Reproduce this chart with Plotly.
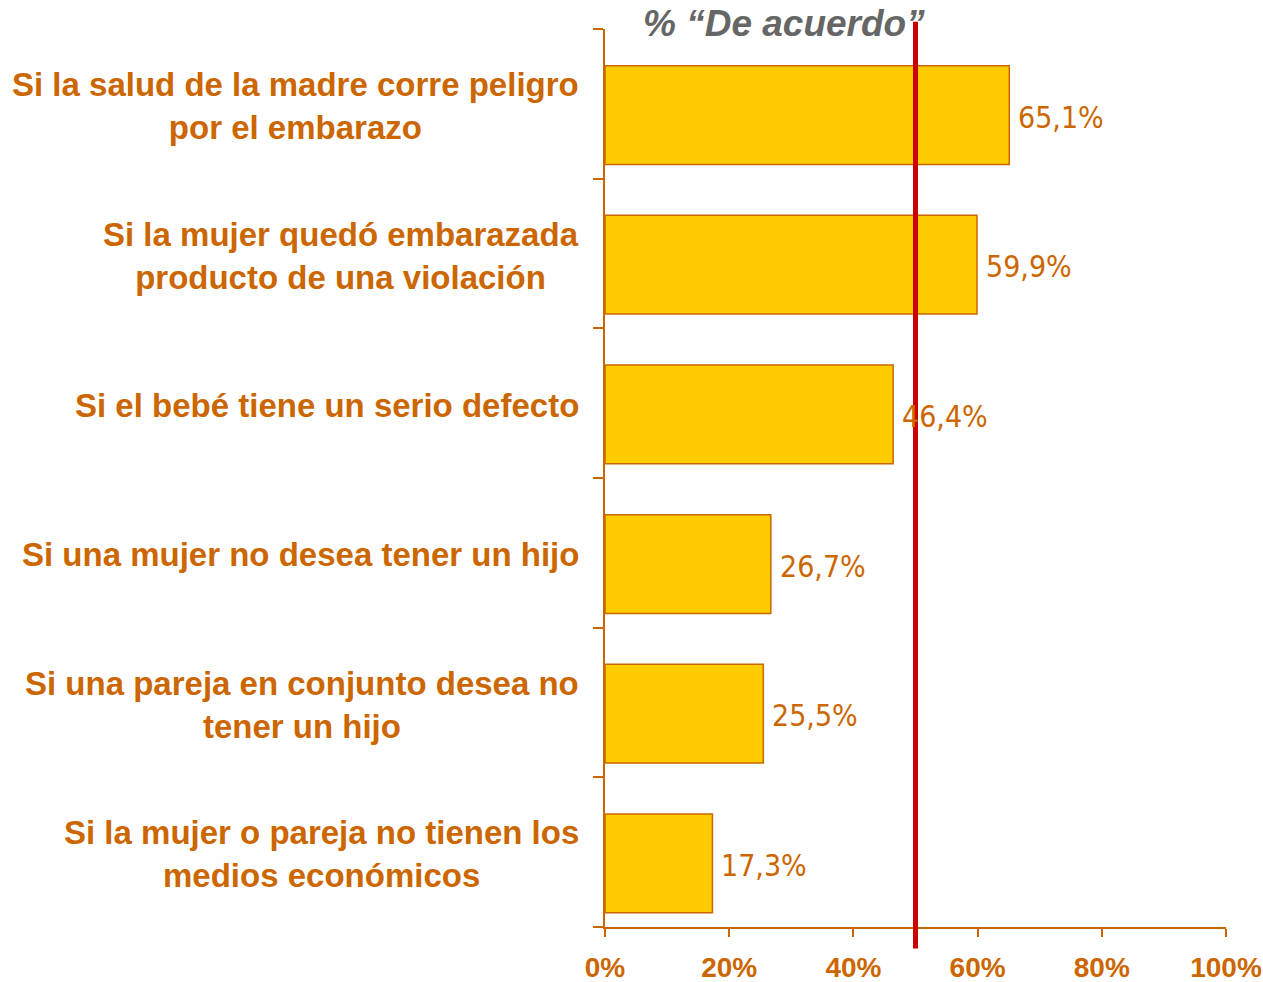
import plotly.graph_objects as go

# Survey results: share answering "De acuerdo" per circumstance
categories = [
    "Si la salud de la madre corre peligro<br>por el embarazo",
    "Si la mujer quedó embarazada<br>producto de una violación",
    "Si el bebé tiene un serio defecto",
    "Si una mujer no desea tener un hijo",
    "Si una pareja en conjunto desea no<br>tener un hijo",
    "Si la mujer o pareja no tienen los<br>medios económicos",
]
values = [65.1, 59.9, 46.4, 26.7, 25.5, 17.3]
value_labels = ["65,1%", "59,9%", "46,4%", "26,7%", "25,5%", "17,3%"]
x_ticks = [0, 20, 40, 60, 80, 100]
x_tick_labels = ["0%", "20%", "40%", "60%", "80%", "100%"]
reference_line = 50
title_text = "% “De acuerdo”"

ORANGE = "#CC6600"
BAR_FILL = "#FFCC00"
RED = "#CC0000"
GRAY = "#666666"
LABEL_FONT = "Arial, Liberation Sans, sans-serif"
VALUE_FONT = "Liberation Sans Narrow, DejaVu Sans Condensed, Arial Narrow, sans-serif"

n = len(categories)
# each category occupies one unit band; bars sit slightly below the band centre
bar_pos = [i + 0.575 for i in range(n)]
band_centre = [i + 0.5 for i in range(n)]

fig = go.Figure()
fig.add_trace(go.Bar(
    x=values,
    y=bar_pos,
    orientation="h",
    width=0.66,
    marker=dict(color=BAR_FILL, line=dict(color=ORANGE, width=1.5)),
    hoverinfo="skip",
))

annotations = []
for i in range(n):
    annotations.append(dict(
        x=0, xref="paper", y=band_centre[i], yref="y",
        text="<b>" + categories[i] + "</b>",
        xanchor="right", yanchor="middle", align="center",
        xshift=-24, yshift=-2, showarrow=False,
        font=dict(family=LABEL_FONT, size=33, color=ORANGE),
    ))
    annotations.append(dict(
        x=values[i], xref="x", y=bar_pos[i], yref="y",
        text=value_labels[i],
        xanchor="left", yanchor="middle", xshift=7, yshift=-2,
        showarrow=False,
        font=dict(family=VALUE_FONT, size=30, color=ORANGE),
    ))

annotations.append(dict(
    x=0.288, xref="paper", y=1.006, yref="paper",
    text="<b><i>" + title_text + "</i></b>",
    xanchor="center", yanchor="middle", showarrow=False,
    font=dict(family=LABEL_FONT, size=37, color=GRAY),
))

fig.add_shape(
    type="line", xref="x", yref="paper",
    x0=reference_line, x1=reference_line, y0=-0.024, y1=1.008,
    line=dict(color=RED, width=5), layer="above",
)

fig.update_layout(
    width=1263, height=982,
    margin=dict(l=605, r=37, t=29, b=55, autoexpand=False),
    plot_bgcolor="white", paper_bgcolor="white",
    showlegend=False,
    annotations=annotations,
    xaxis=dict(
        range=[0, 100], tickvals=x_ticks, ticktext=x_tick_labels,
        showgrid=False, zeroline=False, automargin=False,
        showline=True, linecolor=ORANGE, linewidth=1.5,
        ticks="outside", ticklen=8, tickcolor=ORANGE, tickwidth=1.5,
        ticklabelstandoff=7,
        tickfont=dict(family=LABEL_FONT, size=28, color=ORANGE, weight="bold"),
    ),
    yaxis=dict(
        range=[n, 0], tickvals=list(range(n + 1)), showticklabels=False,
        showgrid=False, zeroline=False, automargin=False,
        showline=True, linecolor=ORANGE, linewidth=1.5,
        ticks="outside", ticklen=10, tickcolor=ORANGE, tickwidth=1.5,
    ),
)

fig.write_html("out.html")
